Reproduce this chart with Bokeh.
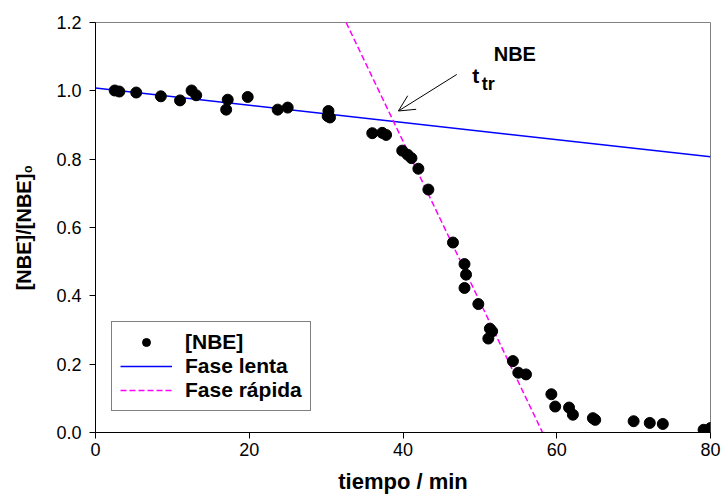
import math
from bokeh.plotting import figure
from bokeh.models import (Range1d, FixedTicker, PrintfTickFormatter, Label, Arrow,
                          OpenHead, Legend, LegendItem)
from bokeh.embed import file_html
from bokeh.resources import INLINE

# ---- data ----
t_min = [2.5, 3.1, 5.3, 8.5, 11.0, 12.5, 13.1, 17.0, 17.2, 19.8, 23.7, 25.0, 30.2, 30.3, 30.5,
         36.0, 37.3, 37.8, 39.9, 40.6, 41.1, 42.0, 43.3, 46.5, 48.0, 48.2, 48.0, 49.8, 51.1,
         51.3, 51.6, 54.3, 55.0, 56.0, 59.3, 59.8, 61.6, 62.1, 64.7, 65.0, 70.0, 72.1, 73.8,
         79.1, 80.0]
nbe_rel = [1.001, 0.998, 0.995, 0.984, 0.972, 1.001, 0.987, 0.945, 0.974, 0.982, 0.945, 0.951,
           0.926, 0.941, 0.922, 0.876, 0.877, 0.871, 0.825, 0.813, 0.803, 0.772, 0.711, 0.556,
           0.493, 0.462, 0.423, 0.376, 0.275, 0.304, 0.296, 0.209, 0.175, 0.170, 0.112, 0.076,
           0.073, 0.052, 0.042, 0.037, 0.033, 0.028, 0.025, 0.008, 0.013]

slow_x = [0.0, 80.0]
slow_y = [1.008, 0.807]
fast_x = [32.6, 58.15]
fast_y = [1.2, 0.0]

arrow_start = (47.0, 1.048)
arrow_end = (39.4, 0.941)

x_ticks = [0, 20, 40, 60, 80]
y_ticks = [0.0, 0.2, 0.4, 0.6, 0.8, 1.0, 1.2]

FONT = "Liberation Sans"

p = figure(width=723, height=496, output_backend="svg", toolbar_location=None,
           x_range=Range1d(0, 80), y_range=Range1d(0, 1.2),
           min_border_left=95, min_border_right=13, min_border_top=22, min_border_bottom=61)
p.background_fill_color = "white"
p.border_fill_color = "white"
p.xgrid.visible = False
p.ygrid.visible = False
p.outline_line_color = "#808080"
p.outline_line_width = 1

for ax in (p.xaxis[0], p.yaxis[0]):
    ax.axis_line_color = "black"
    ax.major_tick_line_color = "black"
    ax.major_tick_out = 6
    ax.major_tick_in = 0
    ax.minor_tick_out = 0
    ax.minor_tick_in = 0
    ax.major_label_text_font = FONT
    ax.major_label_text_font_size = "18px"
    ax.major_label_text_color = "black"
    ax.axis_label_text_font = FONT
    ax.axis_label_text_font_style = "bold"
    ax.axis_label_text_color = "black"

p.xaxis.ticker = FixedTicker(ticks=x_ticks)
p.yaxis.ticker = FixedTicker(ticks=y_ticks)
p.yaxis.formatter = PrintfTickFormatter(format="%.1f")
p.xaxis.major_label_standoff = 4
p.yaxis.major_label_standoff = 8

p.xaxis.axis_label = "tiempo / min"
p.xaxis.axis_label_text_font_size = "22px"
p.xaxis.axis_label_standoff = 10

p.yaxis.axis_label = "[NBE]/[NBE]\u2080"
p.yaxis.axis_label_text_font_size = "20px"
p.yaxis.axis_label_standoff = 18

r_slow = p.line(slow_x, slow_y, line_color="#0000ff", line_width=1.5)
r_fast = p.line(fast_x, fast_y, line_color="#ff00ff", line_width=1.5, line_dash="6 3")
r_pts = p.scatter(t_min, nbe_rel, size=11, marker="circle", fill_color="black", line_color="black")

legend = Legend(items=[LegendItem(label="[NBE]", renderers=[r_pts]),
                       LegendItem(label="Fase lenta", renderers=[r_slow]),
                       LegendItem(label="Fase rápida", renderers=[r_fast])],
                location=(16, 21), orientation="vertical")
legend.label_text_font = FONT
legend.label_text_font_style = "bold"
legend.label_text_font_size = "21px"
legend.label_text_color = "black"
legend.glyph_width = 52
legend.glyph_height = 20
legend.label_height = 20
legend.spacing = 0
legend.padding = 8
legend.margin = 0
legend.label_standoff = 13
legend.border_line_color = "black"
legend.border_line_width = 1
legend.background_fill_alpha = 1
p.add_layout(legend, "center")

p.add_layout(Arrow(end=OpenHead(size=16, line_width=1, line_color="black"),
                   x_start=arrow_start[0], y_start=arrow_start[1],
                   x_end=arrow_end[0], y_end=arrow_end[1],
                   line_width=1, line_color="black"))

# annotation t_tr^NBE
p.add_layout(Label(x=49.0, y=1.045, text="t", text_font=FONT, text_font_style="bold",
                   text_font_size="21px", text_color="black",
                   text_baseline="alphabetic", text_align="left"))
p.add_layout(Label(x=50.25, y=1.02, text="tr", text_font=FONT, text_font_style="bold",
                   text_font_size="18px", text_color="black",
                   text_baseline="alphabetic", text_align="left"))
p.add_layout(Label(x=51.8, y=1.108, text="NBE", text_font=FONT, text_font_style="bold",
                   text_font_size="20px", text_color="black",
                   text_baseline="alphabetic", text_align="left"))

open("out.html", "w").write(file_html(p, INLINE))
